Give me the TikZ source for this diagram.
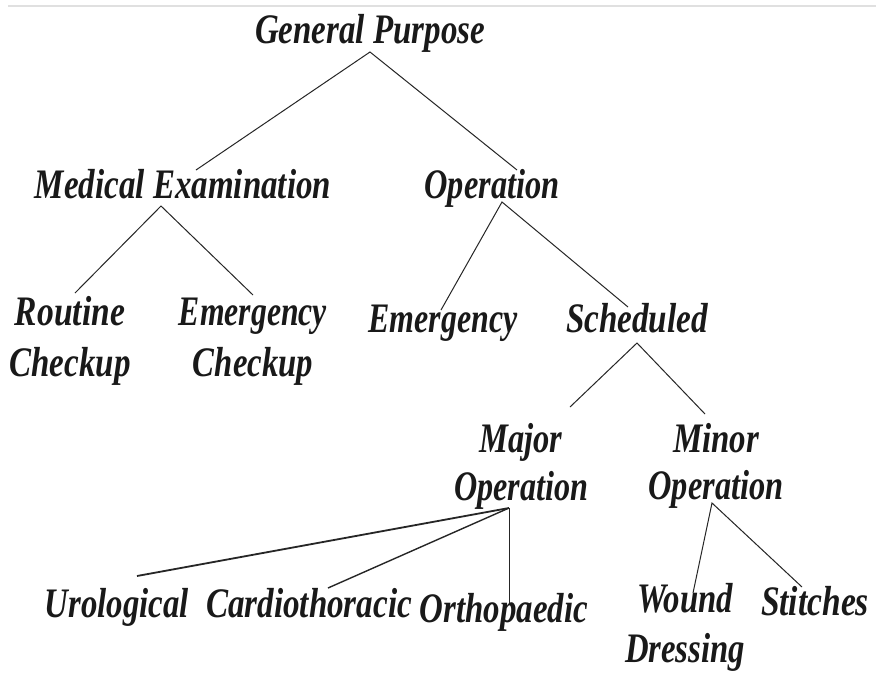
\documentclass[tikz,border=0pt]{standalone}
\usepackage{fontspec}
\setmainfont{Liberation Serif}
\usetikzlibrary{calc}
\newcommand{\lbw}[2]{\resizebox{#1pt}{\height}{#2}}
\newcommand{\twolines}[3]{\vtop{\baselineskip=#1pt\lineskiplimit=-100pt\halign{\hfil##\hfil\cr#2\cr#3\cr}}}
\tikzset{
  lbl/.style={font=\fontsize{42}{50}\selectfont\bfseries\itshape, inner sep=0pt, anchor=base, text=black!90},
  ln/.style={line width=1pt, black!85},
  lnthick/.style={line width=1.8pt, black!85}
}
\begin{document}
\begin{tikzpicture}[x=1pt,y=-1pt]
\useasboundingbox (0,0) rectangle (876,675);
\fill[white] (0,0) rectangle (876,675);
\draw[black!12, line width=1.5pt] (8,6) -- (876,6);

% nodes
\node[lbl] (gp) at (370,43) {\lbw{230}{General Purpose}};
\node[lbl] (me) at (183,198) {\lbw{296}{Medical Examination}};
\node[lbl] (op) at (492,198) {\lbw{135}{Operation}};
\node[lbl] (rc) at (70,325) {\twolines{51}{\lbw{110}{Routine}}{\lbw{121}{Checkup}}};
\node[lbl] (ec) at (253,325) {\twolines{51}{\lbw{148}{Emergency}}{\lbw{120}{Checkup}}};
\node[lbl] (em) at (443,332) {\lbw{149}{Emergency}};
\node[lbl] (sc) at (637,332) {\lbw{142}{Scheduled}};
\node[lbl] (mj) at (521,452) {\twolines{48}{\lbw{83}{Major}}{\lbw{134}{Operation}}};
\node[lbl] (mn) at (716,452) {\twolines{47}{\lbw{86}{Minor}}{\lbw{135}{Operation}}};
\node[lbl] (ur) at (117,617) {\lbw{144}{Urological}};
\node[lbl] (ca) at (309,617) {\lbw{206}{Cardiothoracic}};
\node[lbl] (or) at (504,622) {\lbw{168}{Orthopaedic}};
\node[lbl] (wd) at (685,612) {\twolines{50}{\lbw{96}{Wound}}{\lbw{120}{Dressing}}};
\node[lbl] (st) at (815,615) {\lbw{108}{Stitches}};

% connector end points
\coordinate (gpB) at ($(gp.base)+(0,9)$);
\coordinate (meT) at ($(me.base)+(13,-28)$);
\coordinate (meB) at ($(me.base)+(-22,8)$);
\coordinate (opT) at ($(op.base)+(25,-28)$);
\coordinate (opB) at ($(op.base)+(10,4)$);
\coordinate (rcT) at ($(rc.base)+(5,-32)$);
\coordinate (ecT) at ($(ec.base)+(0,-30)$);
\coordinate (emT) at ($(em.base)+(-2,-22)$);
\coordinate (scT) at ($(sc.base)+(-9,-25)$);
\coordinate (scB) at ($(sc.base)+(0,11)$);
\coordinate (mjT) at ($(mj.base)+(49,-45)$);
\coordinate (mjB) at ($(mj.base)+(-12,56)$);
\coordinate (mnT) at ($(mn.base)+(-11,-38)$);
\coordinate (mnB) at ($(mn.base)+(-4,51)$);
\coordinate (urT) at ($(ur.base)+(20,-41)$);
\coordinate (caT) at ($(ca.base)+(19,-29)$);
\coordinate (orT) at ($(or.base)+(5,-19)$);
\coordinate (wdT) at ($(wd.base)+(8,-19)$);
\coordinate (stT) at ($(st.base)+(-13,-28)$);

% connectors
\draw[ln] (meT) -- (gpB) -- (opT);
\draw[ln] (rcT) -- (meB) -- (ecT);
\draw[ln] (emT) -- (opB) -- (scT);
\draw[ln] (mjT) -- (scB) -- (mnT);
\draw[lnthick] (urT) -- (mjB);
\draw[ln, line width=1.4pt] (caT) -- (mjB);
\draw[ln] (mjB) -- (orT);
\draw[ln] (wdT) -- (mnB) -- (stT);
\end{tikzpicture}
\end{document}
